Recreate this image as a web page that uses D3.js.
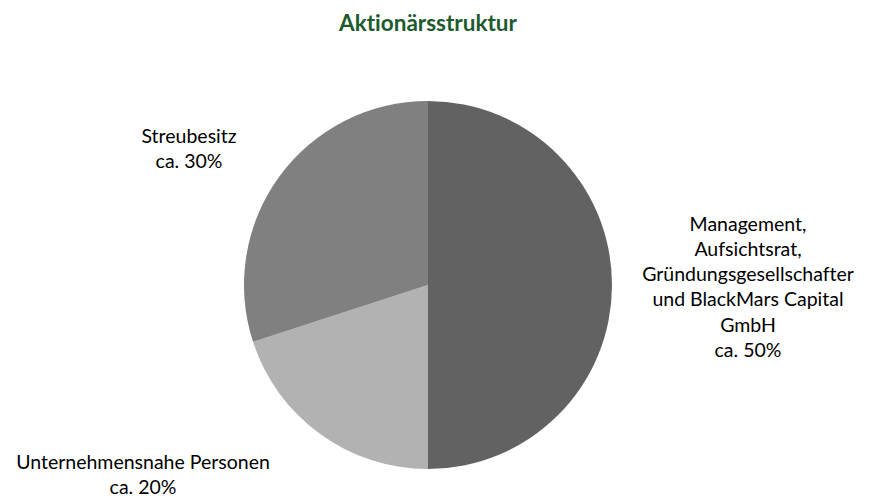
<!DOCTYPE html>
<html><head><meta charset="utf-8">
<script src="https://cdn.jsdelivr.net/npm/d3@7"></script>
<style>body{margin:0;background:#fff}svg{display:block}text{font-variant-ligatures:none;font-feature-settings:"liga" 0}</style>
</head><body>
<svg id="c" width="873" height="498"></svg>
<script>
const title = "Aktionärsstruktur";
const categories = ["Management, Aufsichtsrat, Gründungsgesellschafter und BlackMars Capital GmbH", "Unternehmensnahe Personen", "Streubesitz"];
const labelLines = [
  ["Management,", "Aufsichtsrat,", "Gründungsgesellschafter", "und BlackMars Capital", "GmbH", "ca. 50%"],
  ["Unternehmensnahe Personen", "ca. 20%"],
  ["Streubesitz", "ca. 30%"]
];
const values = [50, 20, 30];
const colors = ["#626262", "#b2b2b2", "#808080"];

const W = 873, H = 498;
const cx = 428, cy = 285, R = 184;
const font = "Lato, 'Open Sans', sans-serif";
const fs = 19.5, lh = 25.3;
// label centre positions relative to pie centre
const labelPos = [[320, 2], [-285, 190], [-239, -136]];

const svg = d3.select("#c");
svg.append("text").attr("x", cx).attr("y", 31).attr("text-anchor", "middle")
  .style("font-family", font).style("font-weight", "bold").style("font-size", "22.5px")
  .attr("fill", "#1d5b2d").text(title);

const pie = d3.pie().sort(null).value(d => d);
const arc = d3.arc().innerRadius(0).outerRadius(R);
const g = svg.append("g").attr("transform", `translate(${cx},${cy})`);
const arcs = pie(values);
g.selectAll("path").data(arcs).enter().append("path")
  .attr("d", arc).attr("fill", (d, i) => colors[i]);

arcs.forEach((a, i) => {
  const lines = labelLines[i];
  const [lx, ly] = labelPos[i];
  const t = g.append("text").attr("text-anchor", "middle")
    .style("font-family", font).style("font-size", fs + "px").attr("fill", "#000");
  const y0 = ly - (lines.length - 1) * lh / 2;
  lines.forEach((s, k) => {
    t.append("tspan").attr("x", lx).attr("y", y0 + k * lh).attr("dy", "0.35em").text(s);
  });
});
</script>
</body></html>
